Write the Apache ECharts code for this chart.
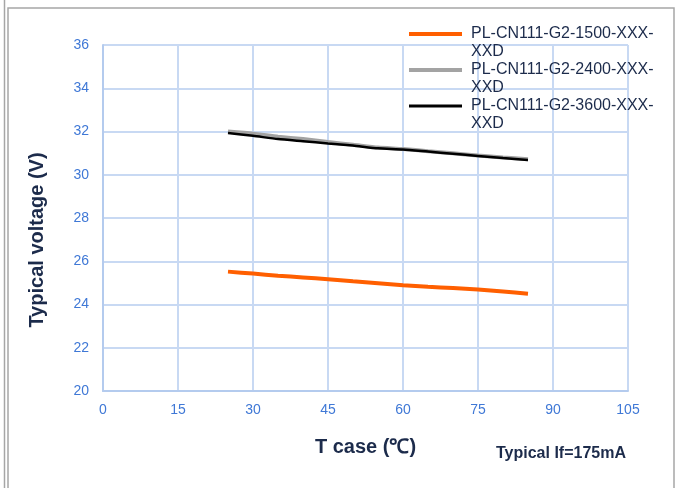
<!DOCTYPE html>
<html>
<head>
<meta charset="utf-8">
<script src="https://cdn.jsdelivr.net/npm/echarts@6/dist/echarts.min.js"></script>
<style>
html,body{margin:0;padding:0;background:#fff;}
#c{width:681px;height:488px;}
</style>
</head>
<body>
<div id="c"></div>
<script>
// Data
var temps = [25, 30, 35, 40, 45, 50, 55, 60, 65, 70, 75, 80, 85];
var v1500 = [25.52, 25.43, 25.33, 25.25, 25.17, 25.07, 24.98, 24.89, 24.82, 24.76, 24.69, 24.60, 24.50];
var v2400 = [32.00, 31.90, 31.76, 31.65, 31.51, 31.39, 31.26, 31.19, 31.09, 30.99, 30.89, 30.80, 30.72];
var v3600 = [31.93, 31.80, 31.65, 31.55, 31.45, 31.35, 31.22, 31.17, 31.07, 30.97, 30.87, 30.77, 30.68];
var seriesNames = ['PL-CN111-G2-1500-XXX-\nXXD', 'PL-CN111-G2-2400-XXX-\nXXD', 'PL-CN111-G2-3600-XXX-\nXXD'];
var xTicks = [0, 15, 30, 45, 60, 75, 90, 105];
var yTicks = [20, 22, 24, 26, 28, 30, 32, 34, 36];

function pairs(xs, ys) { return xs.map(function (x, i) { return [x, ys[i]]; }); }

var chart = echarts.init(document.getElementById('c'));
var navy = '#1c2b4b';
var tickBlue = '#3f78d6';
var gridCol = '#c8d9f3';
var colors = ['#ff5f00', '#a3a3a3', '#000000'];

function legendAt(idx, top, thick) {
  return {
    data: [seriesNames[idx]], orient: 'vertical', left: 409, top: top, padding: 0,
    itemWidth: 53, itemHeight: thick, icon: 'rect',
    itemStyle: { color: colors[idx] },
    formatter: function (n) { return '\n' + n; },
    textStyle: { fontFamily: 'Liberation Sans, Arial', fontSize: 16, color: navy, lineHeight: 18, padding: [0, 0, 0, 4] }
  };
}

chart.setOption({
  animation: false,
  backgroundColor: '#ffffff',
  grid: { left: 103, right: 53, top: 45, bottom: 97, containLabel: false },
  xAxis: {
    type: 'value', min: xTicks[0], max: xTicks[xTicks.length - 1], interval: 15,
    name: 'T case (℃)', nameLocation: 'middle', nameGap: 46,
    nameTextStyle: { fontFamily: 'Liberation Sans, Arial', fontSize: 20, fontWeight: 'bold', color: navy },
    axisLine: { show: true, lineStyle: { color: '#b4cbee', width: 2 } },
    axisTick: { show: false },
    axisLabel: { color: tickBlue, fontSize: 14, fontFamily: 'Liberation Sans, Arial', margin: 12 },
    splitLine: { show: true, lineStyle: { color: gridCol, width: 2 } }
  },
  yAxis: {
    type: 'value', min: yTicks[0], max: yTicks[yTicks.length - 1], interval: 2,
    axisLine: { show: true, lineStyle: { color: '#b4cbee', width: 2 } },
    axisTick: { show: false },
    axisLabel: { color: tickBlue, fontSize: 14, fontFamily: 'Liberation Sans, Arial', margin: 14 },
    splitLine: { show: true, lineStyle: { color: gridCol, width: 2 } }
  },
  legend: [legendAt(0, 7, 4), legendAt(1, 43, 4), legendAt(2, 79, 3)],
  series: [
    { name: seriesNames[0], type: 'line', data: pairs(temps, v1500), symbol: 'none', smooth: 0.2,
      lineStyle: { color: colors[0], width: 4 }, itemStyle: { color: colors[0] }, z: 3 },
    { name: seriesNames[1], type: 'line', data: pairs(temps, v2400), symbol: 'none', smooth: 0.2,
      lineStyle: { color: colors[1], width: 4 }, itemStyle: { color: colors[1] }, z: 2 },
    { name: seriesNames[2], type: 'line', data: pairs(temps, v3600), symbol: 'none', smooth: 0.2,
      lineStyle: { color: colors[2], width: 2.5 }, itemStyle: { color: colors[2] }, z: 4 }
  ],
  graphic: [
    { type: 'line', shape: { x1: 4.5, y1: 0, x2: 4.5, y2: 488 }, style: { stroke: '#a6a6a6', lineWidth: 1.5 }, silent: true },
    { type: 'rect', shape: { x: 8, y: 8, width: 666, height: 500 }, style: { fill: 'none', stroke: '#a6a6a6', lineWidth: 1.5 }, silent: true },
    { type: 'text', x: 37, y: 240, rotation: Math.PI / 2,
      style: { text: 'Typical voltage (V)', font: 'bold 20px "Liberation Sans", Arial', fill: navy, align: 'center', verticalAlign: 'middle' } },
    { type: 'text', left: 496, top: 446,
      style: { text: 'Typical If=175mA', font: 'bold 16px "Liberation Sans", Arial', fill: navy } }
  ]
});
</script>
</body>
</html>
